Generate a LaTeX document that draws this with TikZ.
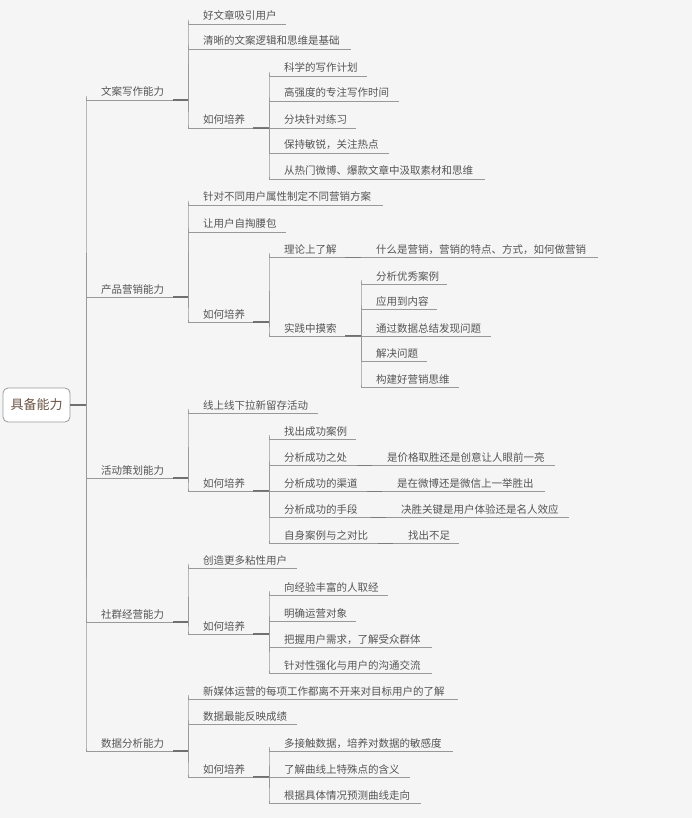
\documentclass[tikz,border=0pt]{standalone}
\usepackage{fontspec}
\usepackage{tikz}
\newfontfamily\cjk{Noto Sans CJK SC}
\definecolor{bgGray}{HTML}{F5F5F5}
\definecolor{txtGray}{HTML}{555555}
\definecolor{lnGray}{HTML}{999999}
\definecolor{stubGray}{HTML}{707070}
\definecolor{rootBrown}{HTML}{6B5444}
\tikzset{
  topic/.style={anchor=base west,inner sep=0pt,text=txtGray,font=\cjk\fontsize{10.5}{12}\selectfont},
  uline/.style={lnGray,line width=0.9pt},
  conn/.style={lnGray,line width=1pt,rounded corners=4pt},
  stub/.style={stubGray,line width=1.3pt},
  flat/.style={stubGray!70!lnGray,line width=1pt},
  rootbox/.style={draw=lnGray,fill=white,rounded corners=5pt,line width=0.8pt,
    minimum width=67pt,minimum height=34pt,inner sep=0pt,text=rootBrown,
    font=\cjk\fontsize{13}{15}\selectfont}
}
% topic: name, underline start x, y, underline end x, text
\newcommand\topic[5]{%
  \node[topic] (#1) at ({#2+15},{#3-4}) {#5};
  \coordinate (#1-l) at (#2,#3);
  \coordinate (#1-r) at (#4,#3);
  \draw[uline] (#1-l) -- (#1-r);
}
% link: parent, child (child above or below)
\newcommand\link[2]{%
  \draw[stub] (#1-r) -- (#1-r -| #2-l);
  \draw[conn] (#1-r -| #2-l) |- (#2-l);
}
% link: parent, child on the same line
\newcommand\flatlink[2]{%
  \draw[flat] (#1-r) -- (#2-l);
}

\begin{document}
\begin{tikzpicture}[x=1pt,y=-1pt]
\fill[bgGray] (0,0) rectangle (692,818);
\useasboundingbox (0,0) rectangle (692,818);

% root
\node[rootbox] (root) at (36.5,405) {具备能力};
\coordinate (root-r) at (70,405);

% level 1
\topic{wa}{86}{100}{173}{文案写作能力}
\topic{cp}{86}{297}{173}{产品营销能力}
\topic{hd}{86}{478}{173}{活动策划能力}
\topic{sq}{86}{622}{173}{社群经营能力}
\topic{sj}{86}{751}{173}{数据分析能力}
\foreach \c in {wa,cp,hd,sq,sj} {\link{root}{\c}}

% 文案写作能力
\topic{wa1}{188}{24}{286}{好文章吸引用户}
\topic{wa2}{188}{49}{351}{清晰的文案逻辑和思维是基础}
\topic{wa3}{188}{128}{253}{如何培养}
\topic{wa3a}{269}{76}{367}{科学的写作计划}
\topic{wa3b}{269}{101}{399}{高强度的专注写作时间}
\topic{wa3c}{269}{128}{356}{分块针对练习}
\topic{wa3d}{269}{153}{389}{保持敏锐，关注热点}
\topic{wa3e}{269}{179}{485}{从热门微博、爆款文章中汲取素材和思维}
\foreach \c in {wa1,wa2,wa3} {\link{wa}{\c}}
\foreach \c in {wa3a,wa3b,wa3d,wa3e} {\link{wa3}{\c}}
\flatlink{wa3}{wa3c}

% 产品营销能力
\topic{cp1}{188}{205}{383}{针对不同用户属性制定不同营销方案}
\topic{cp2}{188}{232}{286}{让用户自掏腰包}
\topic{cp3}{188}{322}{253}{如何培养}
\topic{cp3a}{269}{257}{345}{理论上了解}
\topic{cp3a1}{361}{257}{598}{什么是营销，营销的特点、方式，如何做营销}
\topic{cp3b}{269}{336}{345}{实践中摸索}
\topic{cp3b1}{361}{284}{447}{分析优秀案例}
\topic{cp3b2}{361}{309}{437}{应用到内容}
\topic{cp3b3}{361}{336}{491}{通过数据总结发现问题}
\topic{cp3b4}{361}{361}{427}{解决问题}
\topic{cp3b5}{361}{387}{459}{构建好营销思维}
\foreach \c in {cp1,cp2,cp3} {\link{cp}{\c}}
\foreach \c in {cp3a,cp3b} {\link{cp3}{\c}}
\flatlink{cp3a}{cp3a1}
\foreach \c in {cp3b1,cp3b2,cp3b4,cp3b5} {\link{cp3b}{\c}}
\flatlink{cp3b}{cp3b3}

% 活动策划能力
\topic{hd1}{188}{413}{318}{线上线下拉新留存活动}
\topic{hd2}{188}{491}{253}{如何培养}
\topic{hd2a}{269}{439}{356}{找出成功案例}
\topic{hd2b}{269}{465}{357}{分析成功之处}
\topic{hd2b1}{372}{465}{555}{是价格取胜还是创意让人眼前一亮}
\topic{hd2c}{269}{491}{367}{分析成功的渠道}
\topic{hd2c1}{382}{491}{545}{是在微博还是微信上一举胜出}
\topic{hd2d}{269}{517}{371}{分析成功的手段}
\topic{hd2d1}{386}{517}{569}{决胜关键是用户体验还是名人效应}
\topic{hd2e}{269}{543}{378}{自身案例与之对比}
\topic{hd2e1}{393}{543}{459}{找出不足}
\foreach \c in {hd1,hd2} {\link{hd}{\c}}
\foreach \c in {hd2a,hd2b,hd2d,hd2e} {\link{hd2}{\c}}
\flatlink{hd2}{hd2c}
\flatlink{hd2b}{hd2b1}
\flatlink{hd2c}{hd2c1}
\flatlink{hd2d}{hd2d1}
\flatlink{hd2e}{hd2e1}

% 社群经营能力
\topic{sq1}{188}{568}{297}{创造更多粘性用户}
\topic{sq2}{188}{634}{253}{如何培养}
\topic{sq2a}{269}{595}{388}{向经验丰富的人取经}
\topic{sq2b}{269}{621}{356}{明确运营对象}
\topic{sq2c}{269}{647}{432}{把握用户需求，了解受众群体}
\topic{sq2d}{269}{673}{432}{针对性强化与用户的沟通交流}
\foreach \c in {sq1,sq2} {\link{sq}{\c}}
\foreach \c in {sq2a,sq2b,sq2c,sq2d} {\link{sq2}{\c}}

% 数据分析能力
\topic{sj1}{188}{699}{458}{新媒体运营的每项工作都离不开来对目标用户的了解}
\topic{sj2}{188}{724}{297}{数据最能反映成绩}
\topic{sj3}{188}{777}{253}{如何培养}
\topic{sj3a}{269}{751}{453}{多接触数据，培养对数据的敏感度}
\topic{sj3b}{269}{777}{410}{了解曲线上特殊点的含义}
\topic{sj3c}{269}{803}{421}{根据具体情况预测曲线走向}
\foreach \c in {sj1,sj2,sj3} {\link{sj}{\c}}
\foreach \c in {sj3a,sj3c} {\link{sj3}{\c}}
\flatlink{sj3}{sj3b}
\end{tikzpicture}
\end{document}
